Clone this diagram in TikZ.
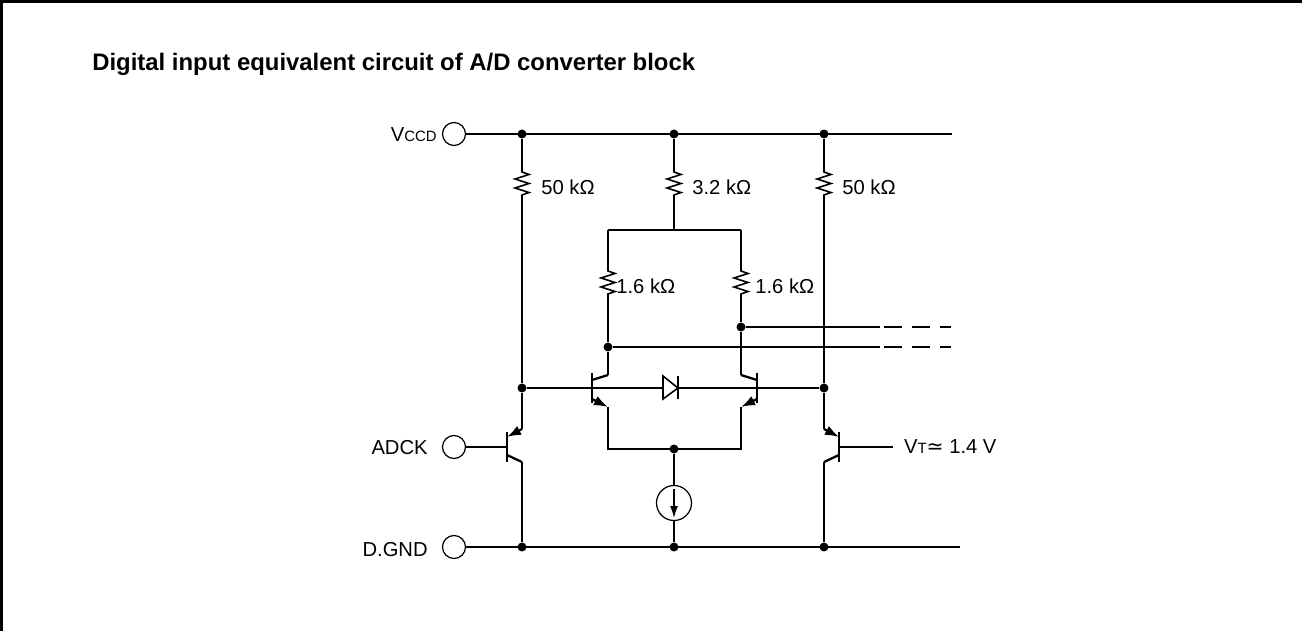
\documentclass[tikz,border=0pt]{standalone}
\usepackage{fontspec}
\setmainfont{Liberation Sans}
\newfontfamily\symfont{DejaVu Sans}
\usetikzlibrary{positioning}
\usetikzlibrary{arrows.meta}
\tikzset{
    wire/.style = {line width=1.3pt},
    frame/.style = {line width=1.7pt},
    dot/.style = {circle, fill=black, inner sep=0pt, minimum size=0.18cm},
    term/.style = {circle, draw=black, line width=0.7pt, inner sep=0pt, minimum size=0.46cm},
    lbl/.style = {inner sep=0pt, font=\fontsize{11.5}{13}\selectfont},
    emit/.style = {wire, -{Latex[length=2.8mm,width=2mm]}},
    res/.pic = {
        \coordinate (-top) at (0,0);
        \coordinate (-bot) at (0,27);
        \draw[line width=0.9pt] (0,0) -- (0,2) -- (7,4.5) -- (-7,9) -- (7,13.5) -- (-7,18) -- (7,22.5) -- (0,25) -- (0,27);
    },
    npn/.pic = {
        \coordinate (-b) at (0,0);
        \coordinate (-c) at (16,-13);
        \coordinate (-e) at (16,19);
        \draw[wire] (0,-15) -- (0,15);
        \draw[wire] (0,-8) -- (-c);
        \draw[emit] (0,11) -- (-e);
    },
    pnp/.pic = {
        \coordinate (-b) at (0,0);
        \coordinate (-e) at (15,-18);
        \coordinate (-c) at (15,15);
        \draw[wire] (0,-15) -- (0,15);
        \draw[wire] (0,8) -- (-c);
        \draw[emit] (-e) -- (0,-10);
    },
}

\begin{document}
\begin{tikzpicture}[x=0.02cm, y=-0.02cm]
\useasboundingbox (0,0) rectangle (1302,631);
\draw[frame] (1.5,631) -- (1.5,1.5) -- (1302,1.5);

\node[anchor=base west, inner sep=0pt, font=\fontsize{13.6}{15}\selectfont\bfseries] (title) at (92,71) {Digital input equivalent circuit of A/D converter block};

% terminals
\node[term] (vccd) at (454,134) {};
\node[term] (adck) at (454,447) {};
\node[term] (dgnd) at (454,547) {};
\node[lbl, anchor=east] (vccdl) at (437,135) {V{\fontsize{8.5}{10}\selectfont CCD}};
\node[lbl, anchor=east] (adckl) at (428,448) {ADCK};
\node[lbl, anchor=east] (dgndl) at (428,550) {D.GND};

% rails
\coordinate (topend) at (952,134);
\coordinate (gndend) at (960,547);
\node[dot] (t1) at (522,134) {};
\node[dot] (t2) at (674,134) {};
\node[dot] (t3) at (824,134) {};
\node[dot] (g1) at (522,547) {};
\node[dot] (g2) at (674,547) {};
\node[dot] (g3) at (824,547) {};
\draw[wire] (vccd) -- (topend);
\draw[wire] (dgnd) -- (gndend);

% resistors
\pic (r1) at (522,170) {res};
\pic (r2) at (674,170) {res};
\pic (r3) at (824,170) {res};
\pic (r4) at (608,269) {res};
\pic (r5) at (741,269) {res};
\node[lbl, anchor=west] at (541,187) {50 kΩ};
\node[lbl, anchor=west] at (692,187) {3.2 kΩ};
\node[lbl, anchor=west] at (842,187) {50 kΩ};
\node[lbl, anchor=west] at (616,286) {1.6 kΩ};
\node[lbl, anchor=west] at (755,286) {1.6 kΩ};

% transistors
\pic (q1) at (592,388) {npn};
\pic[xscale=-1] (q2) at (757,388) {npn};
\pic (q3) at (507,447) {pnp};
\pic[xscale=-1] (q4) at (839,447) {pnp};

% junctions
\coordinate (split) at (674,230);
\coordinate (splitl) at (608,230);
\coordinate (splitr) at (741,230);
\node[dot] (d1) at (741,327) {};
\node[dot] (d2) at (608,347) {};
\node[dot] (b1) at (522,388) {};
\node[dot] (b2) at (824,388) {};
\node[dot] (e) at (674,449) {};
\coordinate (el) at (608,449);
\coordinate (er) at (741,449);

% diode
\coordinate (da) at (663,388);
\coordinate (dk) at (678,388);
\draw[line width=0.9pt, fill=white] (663,376) -- (663,399) -- (dk) -- cycle;
\draw[wire] (678,376) -- (678,399);

% current source
\node[term, minimum size=0.7cm] (cs) at (674,503) {};
\draw[-{Latex[length=2.4mm,width=1.6mm]}, line width=0.9pt] (674,489) -- (674,518);

% outputs
\coordinate (o1) at (880,327);
\coordinate (o1s) at (884,327);
\coordinate (o1e) at (951,327);
\coordinate (o2) at (880,347);
\coordinate (o2s) at (884,347);
\coordinate (o2e) at (951,347);

% wiring
\draw[wire] (t1) -- (r1-top);
\draw[wire] (r1-bot) -- (b1) -- (q3-e);
\draw[wire] (q3-c) -- (g1);
\draw[wire] (adck) -- (q3-b);
\draw[wire] (t3) -- (r3-top);
\draw[wire] (r3-bot) -- (b2) -- (q4-e);
\draw[wire] (q4-c) -- (g3);
\draw[wire] (q4-b) -- (893,447) node[lbl, anchor=west, xshift=0.2cm] {V{\fontsize{8.5}{10}\selectfont T}{\symfont ≃} 1.4 V};
\draw[wire] (t2) -- (r2-top);
\draw[wire] (r2-bot) -- (split);
\draw[wire] (splitl) -- (splitr);
\draw[wire] (splitl) -- (r4-top);
\draw[wire] (splitr) -- (r5-top);
\draw[wire] (r4-bot) -- (d2) -- (q1-c);
\draw[wire] (r5-bot) -- (d1) -- (q2-c);
\draw[wire] (q1-e) -- (el) -- (er) -- (q2-e);
\draw[wire] (b1) -- (da);
\draw[wire] (dk) -- (b2);
\draw[wire] (e) -- (cs);
\draw[wire] (cs) -- (g2);
\draw[wire] (d1) -- (o1);
\draw[wire] (d2) -- (o2);
\draw[wire, dash pattern=on 0.36cm off 0.2cm] (o1s) -- (o1e);
\draw[wire, dash pattern=on 0.36cm off 0.2cm] (o2s) -- (o2e);

\end{tikzpicture}
\end{document}
